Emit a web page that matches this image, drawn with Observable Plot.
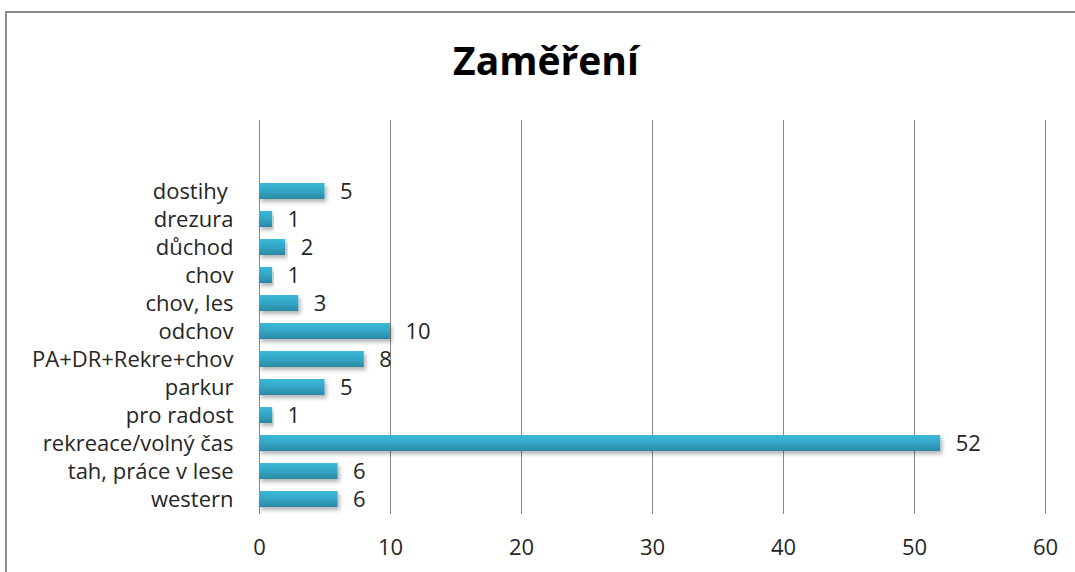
<!DOCTYPE html>
<html>
<head>
<meta charset="utf-8">
<script src="https://cdn.jsdelivr.net/npm/d3@7"></script>
<script src="https://cdn.jsdelivr.net/npm/@observablehq/plot@0.6"></script>
<style>
  html, body { margin: 0; padding: 0; background: #fff; overflow: hidden; }
  #frame { position: absolute; left: 5px; top: 11px; width: 1200px; height: 700px; border: 2px solid #8c8c8c; box-sizing: border-box; }
  #title { position: absolute; left: 0; width: 1092px; top: 34px; text-align: center; font-family: "Open Sans", sans-serif; font-weight: 700; font-size: 39px; color: #000; line-height: 52px; }
  #chart { position: absolute; left: 0; top: 0; }
</style>
</head>
<body>
<div id="frame"></div>
<div id="title">Zaměření</div>
<div id="chart"></div>
<script>
const categories = ["dostihy ", "drezura", "důchod", "chov", "chov, les", "odchov", "PA+DR+Rekre+chov", "parkur", "pro radost", "rekreace/volný čas", "tah, práce v lese", "western"];
const values = [5, 1, 2, 1, 3, 10, 8, 5, 1, 52, 6, 6];
const xTicks = [0, 10, 20, 30, 40, 50, 60];

const data = categories.map((c, i) => ({cat: c, value: values[i]}));

const chart = Plot.plot({
  width: 1075,
  height: 572,
  marginLeft: 259,
  marginRight: 30,
  marginTop: 120,
  marginBottom: 58,
  style: {fontFamily: "Open Sans, sans-serif", fontSize: "22px", color: "#262626", background: "transparent"},
  x: {domain: [0, 60], ticks: xTicks, label: null},
  y: {domain: categories, range: [176, 514], paddingInner: 0.42, paddingOuter: 0.21, label: null},
  marks: [
    Plot.ruleX(xTicks, {stroke: "#8a8a8a", strokeWidth: 1, strokeOpacity: 1}),
    Plot.barX(data, {x: "value", y: "cat", fill: "url(#barGrad)", className: "shadowbars"}),
    Plot.text(data, {x: "value", y: "cat", text: d => String(d.value), textAnchor: "start", dx: 15, fontSize: 22, fill: "#262626"}),
    Plot.axisX({ticks: xTicks, tickSize: 0, tickPadding: 25, fontSize: 22, label: null}),
    Plot.axisY({tickSize: 0, tickPadding: 26, fontSize: 22, label: null})
  ]
});

const svg = d3.select(chart);
const defs = svg.insert("defs", ":first-child");
const g = defs.append("linearGradient").attr("id", "barGrad").attr("x1", 0).attr("y1", 0).attr("x2", 0).attr("y2", 1);
g.append("stop").attr("offset", "0%").attr("stop-color", "#3db9da");
g.append("stop").attr("offset", "50%").attr("stop-color", "#33a6c6");
g.append("stop").attr("offset", "100%").attr("stop-color", "#2a87a3");
const f = defs.append("filter").attr("id", "barShadow").attr("x", "-5%").attr("y", "-30%").attr("width", "115%").attr("height", "190%");
f.append("feDropShadow").attr("dx", 2).attr("dy", 3).attr("stdDeviation", 2).attr("flood-color", "#000").attr("flood-opacity", 0.3);
svg.selectAll("g.shadowbars rect, g[aria-label='bar'] rect").attr("filter", "url(#barShadow)");

document.getElementById("chart").appendChild(chart);
</script>
</body>
</html>
